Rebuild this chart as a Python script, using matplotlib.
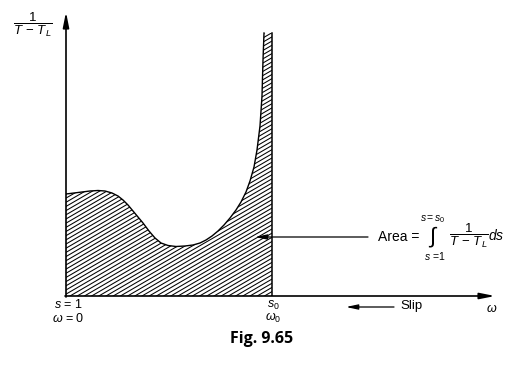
import numpy as np
import matplotlib
matplotlib.use("Agg")
import matplotlib.pyplot as plt
from matplotlib.patches import Polygon

plt.rcParams['font.family'] = ['Liberation Sans', 'DejaVu Sans']
plt.rcParams['mathtext.fontset'] = 'custom'
plt.rcParams['mathtext.rm'] = 'Liberation Sans'
plt.rcParams['mathtext.it'] = 'Liberation Sans:italic'
plt.rcParams['mathtext.bf'] = 'Liberation Sans:bold'

# curve 1/(T - T_L) against speed (arbitrary units)
omega = [0, 8, 16, 24, 32, 39, 46, 52, 57, 62, 67, 72, 77, 83, 89, 95,
         102, 110, 119, 127, 134, 140, 146, 152, 158, 164, 170, 175,
         180, 184, 188, 191, 194, 196, 197, 198]
inv_torque = [102, 103, 104, 105, 105.5, 105, 103, 100, 96, 91, 85, 79, 73,
              65, 58, 53, 50.5, 49.5, 50, 51, 53, 56, 60, 65, 71, 78, 86, 94,
              104, 115, 129, 146, 170, 200, 236, 263]
omega_0 = 206
x_end = 429
y_end = 284

W, H = 515, 365
fig = plt.figure(figsize=(W / 100, H / 100), dpi=100)
ox, oy = 66, 296
ax = fig.add_axes([ox / W, (H - oy) / H, x_end / W, y_end / H])
ax.set_xlim(0, x_end)
ax.set_ylim(0, y_end)
ax.axis('off')

# shaded area under the curve, hatched by hand so the angle matches
poly = list(zip(omega, inv_torque)) + [(omega_0, inv_torque[-1]), (omega_0, 0), (0, 0)]
area = Polygon(poly, closed=True, facecolor='none', edgecolor='none')
ax.add_patch(area)
slope = 0.58
for c in np.arange(-500, 300, 7.2):
    xs = np.array([0, omega_0])
    ln, = ax.plot(xs, slope * (xs - c), color='black', lw=0.75)
    ln.set_clip_path(area)

ax.plot(omega, inv_torque, color='black', lw=1.0)
ax.plot([omega_0, omega_0], [0, inv_torque[-1]], color='black', lw=1.1)

# axes with arrow heads
arr = dict(arrowstyle='-|>,head_length=0.9,head_width=0.18', color='black', lw=1.2,
           shrinkA=0, shrinkB=0)
ax.annotate('', xy=(0, y_end), xytext=(0, -1), arrowprops=arr, annotation_clip=False)
ax.annotate('', xy=(x_end, 0), xytext=(-1, 0), arrowprops=arr, annotation_clip=False)


def px(x, y):
    return x / W, 1 - y / H


fig.text(*px(33, 25), r'$\dfrac{1}{T\,-\,T_L}$', fontsize=9.5, ha='center', va='center')

fig.text(*px(68, 305), r'$s$ = 1', fontsize=9, ha='center', va='center')
fig.text(*px(68, 318), r'$\omega$ = 0', fontsize=9, ha='center', va='center')
fig.text(*px(273, 305), r'$s_0$', fontsize=9, ha='center', va='center')
fig.text(*px(273, 318), r'$\omega_0$', fontsize=9, ha='center', va='center')
fig.text(*px(492, 309), r'$\omega$', fontsize=9, ha='center', va='center')

fig.text(*px(400, 306), 'Slip', fontsize=9.5, ha='left', va='center')
slip_arr = dict(arrowstyle='-|>,head_length=0.7,head_width=0.15', color='black', lw=0.9,
                shrinkA=0, shrinkB=0)
ax.annotate('', xy=px(346, 307), xytext=px(394, 307), xycoords='figure fraction',
            textcoords='figure fraction', arrowprops=slip_arr)

# area annotation
ax.annotate('', xy=px(255, 237), xytext=px(368, 237), xycoords='figure fraction',
            textcoords='figure fraction', arrowprops=slip_arr)
fig.text(*px(378, 237), 'Area =', fontsize=10, ha='left', va='center')
fig.text(*px(433, 237), r'$\int$', fontsize=16, ha='center', va='center')
fig.text(*px(433, 219), r'$s = s_0$', fontsize=7.5, ha='center', va='center')
fig.text(*px(435, 256), r'$s$ =1', fontsize=7.5, ha='center', va='center')
fig.text(*px(469, 236), r'$\dfrac{1}{T\,-\,T_L}$', fontsize=9.5, ha='center', va='center')
fig.text(*px(488, 236), r'$ds$', fontsize=10, ha='left', va='center')

fig.text(*px(262, 339), 'Fig. 9.65', fontsize=11.5, fontweight='bold',
         family=['Open Sans', 'DejaVu Sans'], ha='center', va='center')

fig.savefig('out.png', dpi=100)
